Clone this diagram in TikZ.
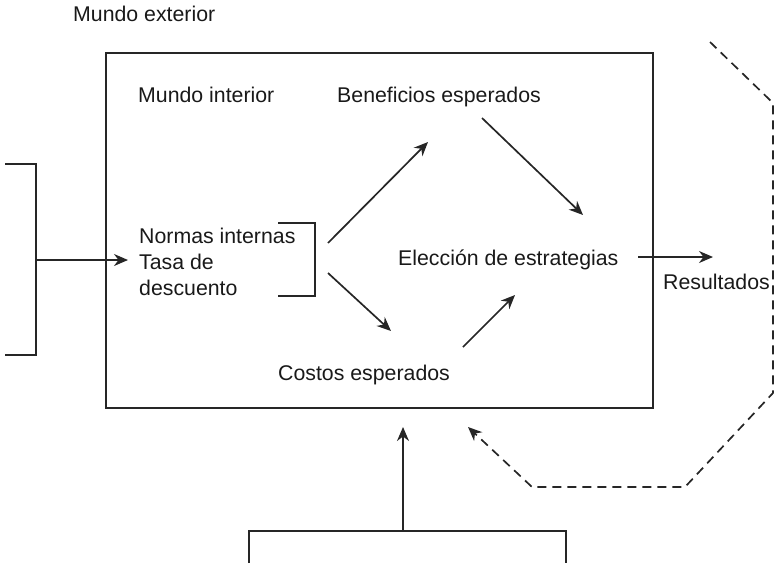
\documentclass[tikz,border=0pt]{standalone}
\usepackage{fontspec}
\setmainfont{Liberation Sans}
\usetikzlibrary{arrows.meta}

\begin{document}
\begin{tikzpicture}[x=1pt,y=-1pt,
  lbl/.style={anchor=base west,inner sep=0pt,text=black!90,font=\fontsize{21.3}{25}\selectfont},
  marco/.style={line width=1.8pt,draw=black!85},
  flecha/.style={line width=1.7pt,draw=black!85,-{Stealth[length=14pt,width=12pt,inset=4.5pt]}},
  punteada/.style={flecha,dash pattern=on 9pt off 6pt}]
  \useasboundingbox (0,0) rectangle (776,563);
  \node[lbl] (exterior) at (73,21) {Mundo exterior};
  \node[lbl] (interior) at (138,102) {Mundo interior};
  \node[lbl] (beneficios) at (337,102) {Beneficios esperados};
  \node[lbl] (normas) at (139,243) {Normas internas};
  \node[lbl] (tasa) at (139,269) {Tasa de};
  \node[lbl] (descuento) at (139,295) {descuento};
  \node[lbl] (eleccion) at (398,265) {Elección de estrategias};
  \node[lbl] (resultados) at (663,289) {Resultados};
  \node[lbl] (costos) at (278,380) {Costos esperados};
  \draw[marco] (106,53) rectangle (653,408);
  \draw[marco] (5,164) -| (36,355) -- (5,355);
  \draw[marco] (278,223) -| (315,296) -- (278,296);
  \draw[marco] (249,563) |- (566,531) -- (566,563);
  \coordinate (entrada) at (36,260);
  \coordinate (haciatasa) at (128,260);
  \coordinate (brkarriba) at (328,243);
  \coordinate (brkabajo) at (328,273);
  \coordinate (haciabenef) at (428,142);
  \coordinate (haciacostos) at (391,331);
  \coordinate (desdebenef) at (482,118);
  \coordinate (haciaelec) at (583,215);
  \coordinate (desdecostos) at (463,347);
  \coordinate (haciaelec2) at (515,295);
  \coordinate (desdeelec) at (638,257);
  \coordinate (haciares) at (713,257);
  \coordinate (desdeabajo) at (403,531);
  \coordinate (haciamundo) at (403,427);
  \draw[flecha] (entrada) -- (haciatasa);
  \draw[flecha] (brkarriba) -- (haciabenef);
  \draw[flecha] (brkabajo) -- (haciacostos);
  \draw[flecha] (desdebenef) -- (haciaelec);
  \draw[flecha] (desdecostos) -- (haciaelec2);
  \draw[flecha] (desdeelec) -- (haciares);
  \draw[flecha] (desdeabajo) -- (haciamundo);
  \draw[punteada] (710,42) -- (773,103) -- (773,393) -- (685,487) -- (532,487) -- (468,427);
\end{tikzpicture}
\end{document}
